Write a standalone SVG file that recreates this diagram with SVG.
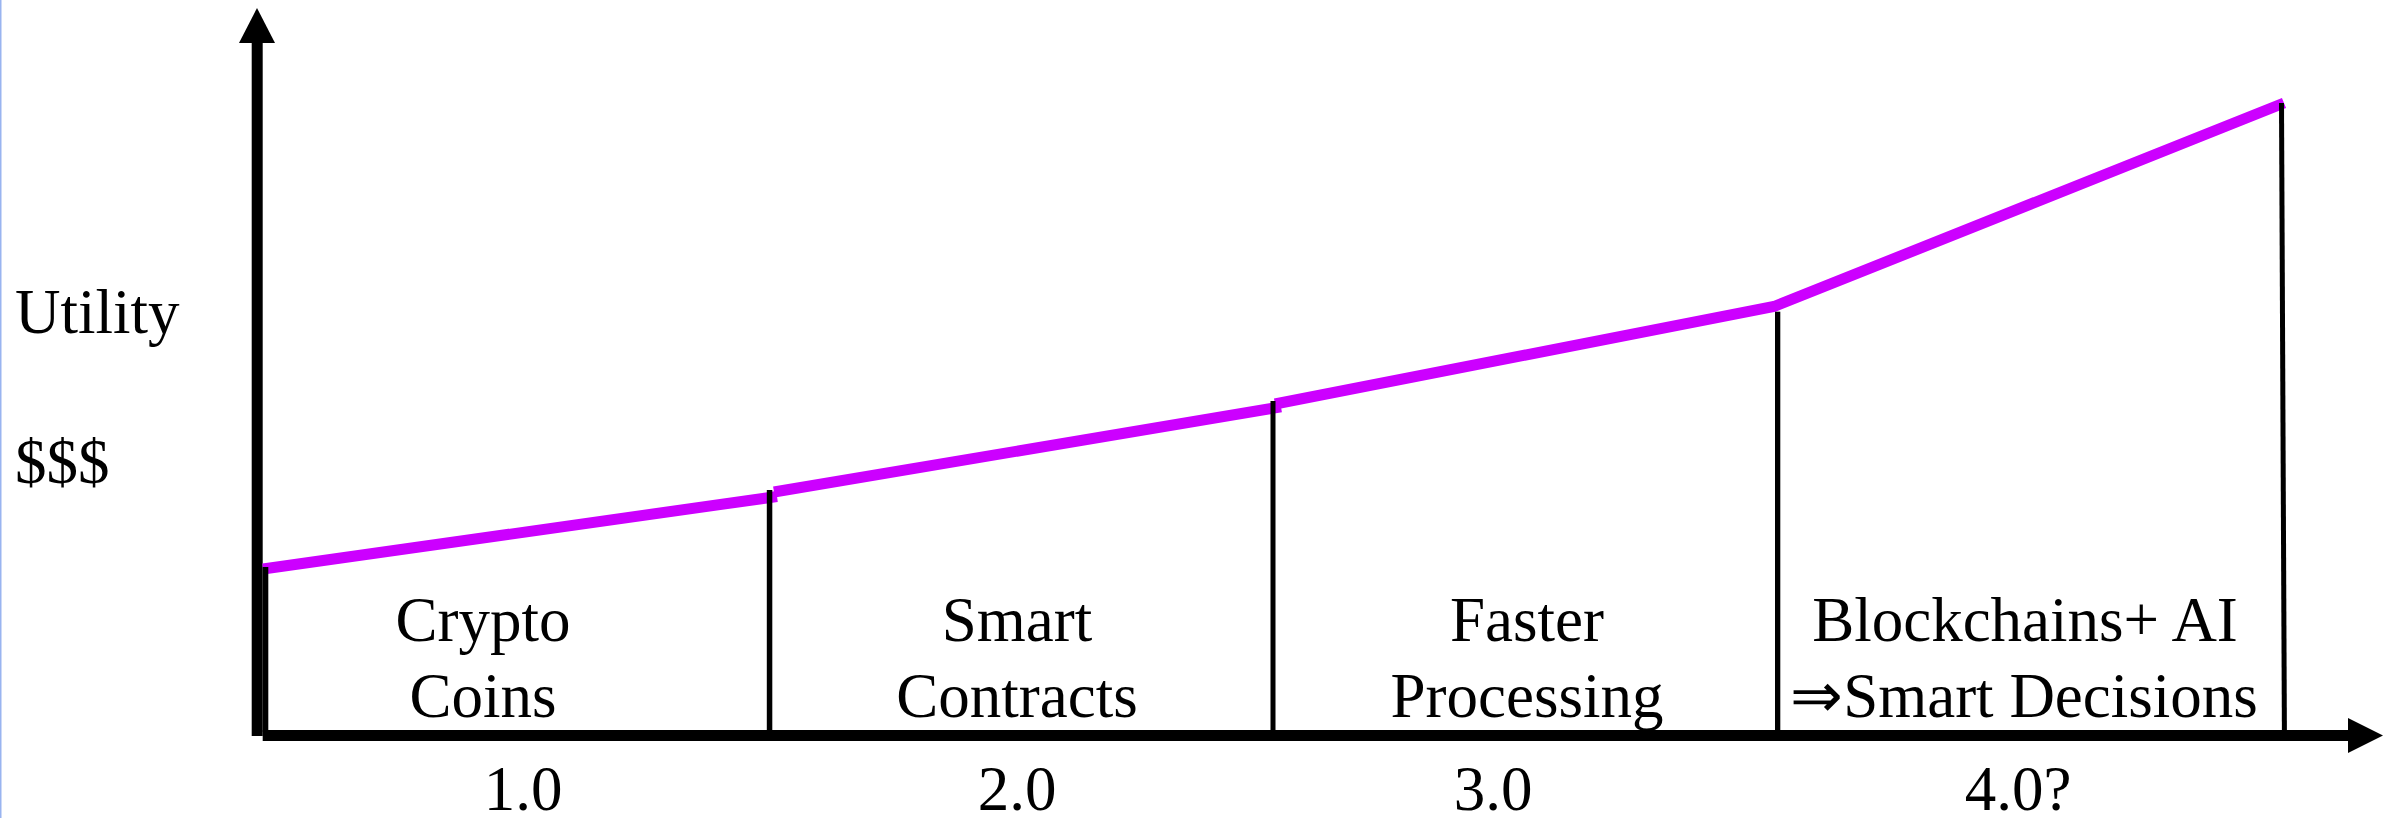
<svg xmlns="http://www.w3.org/2000/svg" width="2395" height="818" viewBox="0 0 2395 818">
  <style>
    .lbl { font-family: "Liberation Serif", "Times New Roman", serif; font-size: 63px; fill: #000; }
    .mid { text-anchor: middle; }
    .curve { fill: none; stroke: #cc00ff; stroke-width: 11; stroke-linecap: butt; stroke-linejoin: miter; }
    .div { fill: #000; }
  </style>
  <rect width="2395" height="818" fill="#fff"/>
  <rect x="0" y="0" width="1.5" height="818" fill="#99b4f0"/>

  <!-- axes -->
  <g id="axes">
    <rect x="251.7" y="42" width="11" height="694" fill="#000"/>
    <polygon points="239,43 275,43 257,8" fill="#000"/>
    <rect x="262.7" y="730" width="2086" height="11" fill="#000"/>
    <polygon points="2348,718 2383,735.5 2348,753" fill="#000"/>
  </g>

  <!-- utility curve -->
  <g id="connectors">
    <line class="curve" x1="263" y1="569" x2="777" y2="496.5"/>
    <line class="curve" x1="774" y1="492" x2="1281" y2="406.8"/>
    <polyline class="curve" points="1275,404 1774,306.5 2284,103"/>
  </g>

  <!-- era dividers -->
  <g id="dividers">
    <rect class="div" x="262.7" y="567" width="5.6" height="165"/>
    <rect class="div" x="766.8" y="490" width="5.5" height="242"/>
    <rect class="div" x="1270.5" y="401" width="5" height="331"/>
    <rect class="div" x="1775" y="311.7" width="5.3" height="420"/>
    <line x1="2281.5" y1="103" x2="2284.4" y2="732" stroke="#000" stroke-width="5"/>
  </g>

  <!-- axis labels -->
  <g id="y-label">
    <text class="lbl" x="15" y="333">Utility</text>
    <text class="lbl" x="15" y="483">$$$</text>
  </g>

  <g id="era-1">
    <text class="lbl mid" x="483" y="641">Crypto</text>
    <text class="lbl mid" x="483" y="717">Coins</text>
    <text class="lbl mid" x="523" y="810">1.0</text>
  </g>
  <g id="era-2">
    <text class="lbl mid" x="1017" y="641">Smart</text>
    <text class="lbl mid" x="1017" y="717">Contracts</text>
    <text class="lbl mid" x="1017" y="810">2.0</text>
  </g>
  <g id="era-3">
    <text class="lbl mid" x="1527" y="641">Faster</text>
    <text class="lbl mid" x="1527" y="717">Processing</text>
    <text class="lbl mid" x="1493" y="810">3.0</text>
  </g>
  <g id="era-4">
    <text class="lbl mid" x="2025" y="641">Blockchains+ AI</text>
    <text class="lbl mid" x="2024" y="717">⇒Smart Decisions</text>
    <text class="lbl mid" x="2018" y="810">4.0?</text>
  </g>
</svg>
